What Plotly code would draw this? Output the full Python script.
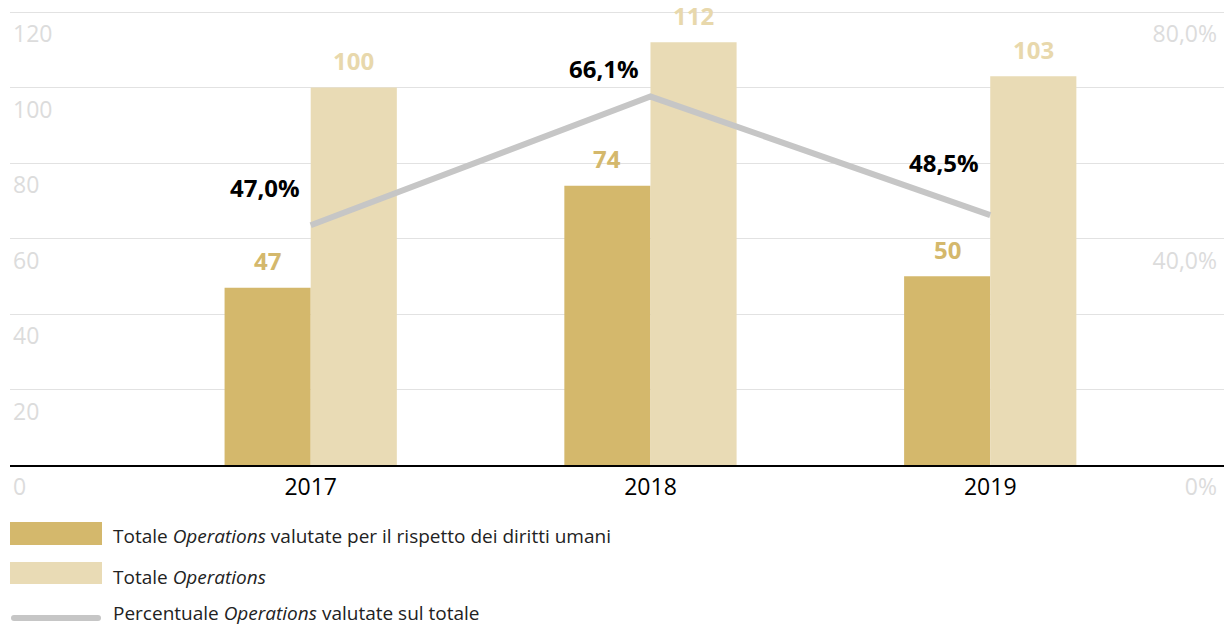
import plotly.graph_objects as go

# ---- data ----
years = ["2017", "2018", "2019"]
valutate = [47, 74, 50]            # Totale Operations valutate per il rispetto dei diritti umani
totale = [100, 112, 103]           # Totale Operations
percentuale = [47.0, 66.1, 48.5]   # Percentuale Operations valutate sul totale
perc_labels = ["47,0%", "66,1%", "48,5%"]
left_tickvals = [0, 20, 40, 60, 80, 100, 120]
left_ticktext = ["0", "20", "40", "60", "80", "100", "120"]
right_tickvals = [0, 40, 80]
right_ticktext = ["0%", "40,0%", "80,0%"]
legend_names = [
    "Totale <i>Operations</i> valutate per il rispetto dei diritti umani",
    "Totale <i>Operations</i>",
    "Percentuale <i>Operations</i> valutate sul totale",
]

# ---- style ----
W, H = 1224, 627
ML, MR, MT, MB = 10, 0, 11, 162
PW, PH = W - ML - MR, H - MT - MB
FONT = "Open Sans"
DARK = "#D4B86C"
LIGHT = "#E9DBB5"
LIGHT_TXT = "#E8D8AC"
LINE = "#C6C6C6"
AXIS_TXT = "#DCDCDC"
GRID = "#E2E2E2"
PERC_LABEL_YSHIFT = [38, 28, 53]   # label placement offsets (px), style only


def px_x(px):
    return (px - ML) / PW


def px_y(py):
    return (H - MB - py) / PH


fig = go.Figure()
fig.add_trace(go.Bar(x=years, y=valutate, marker_color=DARK, marker_line_width=0,
                     name="valutate", showlegend=False, hoverinfo="skip"))
fig.add_trace(go.Bar(x=years, y=totale, marker_color=LIGHT, marker_line_width=0,
                     name="totale", showlegend=False, hoverinfo="skip"))
fig.add_trace(go.Scatter(x=years, y=percentuale, mode="lines", yaxis="y3",
                         line=dict(color=LINE, width=6), showlegend=False,
                         hoverinfo="skip"))
# carrier for the right-hand percentage axis (invisible)
fig.add_trace(go.Scatter(x=years, y=percentuale, mode="markers", yaxis="y2",
                         marker=dict(opacity=0), showlegend=False, hoverinfo="skip"))

annotations = []
for i, v in enumerate(valutate):
    annotations.append(dict(x=i, y=v, xref="x", yref="y", text=f"<b>{v}</b>",
                            showarrow=False, xshift=-43, yshift=27, yanchor="middle",
                            font=dict(family=FONT, size=24, color=DARK)))
for i, v in enumerate(totale):
    annotations.append(dict(x=i, y=v, xref="x", yref="y", text=f"<b>{v}</b>",
                            showarrow=False, xshift=43, yshift=27, yanchor="middle",
                            font=dict(family=FONT, size=24, color=LIGHT_TXT)))
for i, (p, lab) in enumerate(zip(percentuale, perc_labels)):
    annotations.append(dict(x=i, y=p, xref="x", yref="y3", text=f"<b>{lab}</b>",
                            showarrow=False, xanchor="right", xshift=-9,
                            yshift=PERC_LABEL_YSHIFT[i], yanchor="middle",
                            font=dict(family=FONT, size=24, color="#000000")))

# legend (custom)
shapes = [
    dict(type="rect", xref="paper", yref="paper", x0=px_x(10), x1=px_x(102),
         y0=px_y(545), y1=px_y(522), fillcolor=DARK, line_width=0),
    dict(type="rect", xref="paper", yref="paper", x0=px_x(10), x1=px_x(102),
         y0=px_y(584), y1=px_y(562), fillcolor=LIGHT, line_width=0),
    dict(type="path", xref="paper", yref="paper", xsizemode="pixel", ysizemode="pixel",
         xanchor=px_x(11), yanchor=px_y(618),
         path="M3,-3 L87,-3 Q90,-3 90,0 Q90,3 87,3 L3,3 Q0,3 0,0 Q0,-3 3,-3 Z",
         fillcolor=LINE, line_width=0),
]
for name, cy in zip(legend_names, [536, 577, 613]):
    annotations.append(dict(x=px_x(111), y=px_y(cy), xref="paper", yref="paper",
                            text=name, showarrow=False, xanchor="left", yanchor="middle",
                            font=dict(family=FONT, size=19, color="#222222")))

fig.update_layout(
    width=W, height=H,
    margin=dict(l=ML, r=MR, t=MT, b=MB),
    paper_bgcolor="white", plot_bgcolor="white",
    barmode="group", bargap=0.493, bargroupgap=0,
    font=dict(family=FONT),
    xaxis=dict(type="category", range=[-0.885, 2.688], showgrid=False, showline=True,
               linecolor="#000000", linewidth=2, ticks="",
               tickfont=dict(family=FONT, size=23, color="#000000")),
    yaxis=dict(range=[0, 120.3], tickvals=left_tickvals, ticktext=left_ticktext,
               showgrid=True, gridcolor=GRID, gridwidth=1, zeroline=False,
               ticklabelposition="inside", ticklabelshift=22, ticklabelstandoff=0,
               ticklabeloverflow="allow",
               tickfont=dict(family=FONT, size=23, color=AXIS_TXT)),
    yaxis2=dict(range=[0, 80.2], tickvals=right_tickvals, ticktext=right_ticktext,
                overlaying="y", side="right", showgrid=False, zeroline=False,
                ticklabelposition="inside", ticklabelshift=22, ticklabelstandoff=4,
                ticklabeloverflow="allow",
                tickfont=dict(family=FONT, size=23, color=AXIS_TXT)),
    yaxis3=dict(range=[11.4, 78.8], overlaying="y", visible=False),
    shapes=shapes,
    annotations=annotations,
)

fig.write_html("out.html", config={"displayModeBar": False},
               post_script="document.body.style.margin='0';")
